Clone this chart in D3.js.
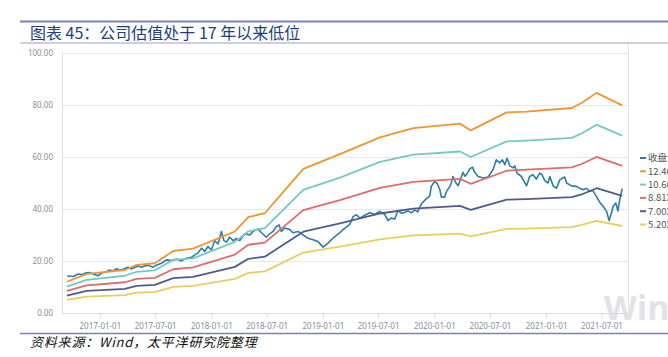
<!DOCTYPE html>
<html>
<head>
<meta charset="utf-8">
<script src="https://cdn.jsdelivr.net/npm/d3@7/dist/d3.min.js"></script>
<style>
html,body{margin:0;padding:0;background:#fff;overflow:hidden;}
svg{display:block;}
</style>
</head>
<body>
<svg id="chart" width="668" height="357"></svg>
<script>
// ---------------- DATA ----------------
const titleText = "图表 45：公司估值处于 17 年以来低位";
const sourceText = "资料来源：Wind，太平洋研究院整理";
const legendLabels = ["收盘价", "12.40X", "10.60X", "8.81X", "7.00X", "5.20X"];
const yTicks = [0, 20, 40, 60, 80, 100];
const xTickLabels = ["2017-01-01","2017-07-01","2018-01-01","2018-07-01","2019-01-01","2019-07-01","2020-01-01","2020-07-01","2021-01-01","2021-07-01"];

const closeDates = [
"2016-09-16","2016-10-06","2016-10-22","2016-11-03","2016-11-16","2016-11-29","2016-12-10","2016-12-26",
"2017-01-06","2017-01-23","2017-02-03","2017-02-12","2017-02-24","2017-03-07","2017-03-18","2017-04-03",
"2017-04-14","2017-04-25","2017-05-06","2017-05-17","2017-05-28","2017-06-08","2017-06-24","2017-07-06",
"2017-07-22","2017-08-07","2017-08-23","2017-09-09","2017-09-25","2017-10-11","2017-10-28","2017-11-08",
"2017-11-18","2017-11-30","2017-12-10","2017-12-21","2018-01-01","2018-01-12","2018-01-23","2018-02-03",
"2018-02-11","2018-02-19","2018-03-02","2018-03-13","2018-03-24","2018-04-04","2018-04-20","2018-05-07",
"2018-05-17","2018-06-03","2018-06-14","2018-06-30","2018-07-11","2018-07-22","2018-08-02","2018-08-11",
"2018-08-18","2018-08-29","2018-09-15","2018-09-25","2018-10-12","2018-10-28","2018-11-13","2018-11-30",
"2018-12-16","2019-01-02","2019-01-18","2019-02-03","2019-02-25","2019-03-08","2019-03-30","2019-04-10",
"2019-04-21","2019-05-02","2019-05-18","2019-06-04","2019-06-20","2019-07-06","2019-07-23","2019-08-02",
"2019-08-14","2019-08-24","2019-09-04","2019-09-15","2019-09-26","2019-10-07","2019-10-18","2019-10-29",
"2019-11-08","2019-11-14","2019-11-20","2019-12-01","2019-12-11","2019-12-17","2019-12-22","2020-01-02",
"2020-01-10","2020-01-19","2020-01-24","2020-02-04","2020-02-10","2020-02-21","2020-02-26","2020-03-02",
"2020-03-11","2020-03-19","2020-03-24","2020-04-04","2020-04-10","2020-04-15","2020-04-26","2020-05-05",
"2020-05-12","2020-05-23","2020-06-09","2020-06-25","2020-07-11","2020-07-22","2020-08-02","2020-08-11",
"2020-08-19","2020-08-26","2020-09-04","2020-09-15","2020-09-20","2020-09-28","2020-10-12","2020-10-29",
"2020-11-08","2020-11-19","2020-11-30","2020-12-11","2020-12-19","2020-12-27","2021-01-07","2021-01-13",
"2021-01-24","2021-02-04","2021-02-15","2021-03-03","2021-03-09","2021-03-25","2021-04-10","2021-04-21",
"2021-05-02","2021-05-13","2021-05-24","2021-06-03","2021-06-15","2021-06-26","2021-07-07","2021-07-18",
"2021-07-26","2021-08-03","2021-08-08","2021-08-17","2021-08-24","2021-08-30","2021-09-07"
];
const closeValues = [
14.2,14.0,15.0,14.8,15.4,15.5,15.0,14.3,
15.3,15.9,16.5,16.0,17.0,16.5,16.8,17.6,
16.9,17.5,18.0,17.6,18.1,18.3,17.6,18.4,
19.1,20.4,20.1,20.7,20.0,21.0,21.4,22.3,
23.0,24.9,23.6,25.5,24.2,27.8,26.5,31.3,
27.8,27.2,29.1,27.8,28.6,27.8,30.4,30.0,
31.3,32.3,30.8,29.1,30.4,31.3,33.2,33.8,
31.3,32.6,32.0,30.8,31.3,30.0,28.7,28.1,
27.4,25.3,26.8,28.7,30.8,32.0,34.0,37.0,
37.7,36.4,37.5,38.5,37.8,39.0,37.8,35.5,
36.5,36.0,39.3,38.3,38.6,39.2,38.5,39.5,
38.8,40.5,42.0,43.3,44.3,45.0,48.6,50.5,
49.8,47.3,44.5,44.5,46.7,48.6,50.1,52.4,
50.1,48.8,50.5,54.0,52.5,53.1,55.3,56.0,
54.0,52.4,51.8,52.2,55.0,58.8,57.6,58.8,
56.9,59.4,56.5,55.7,56.5,53.7,52.4,48.8,
52.4,53.1,51.4,53.7,53.0,50.9,49.9,52.4,
48.8,47.9,51.2,52.2,49.9,48.8,48.6,47.9,
47.3,47.9,46.7,47.0,44.7,42.4,40.9,39.0,
35.5,38.5,40.9,42.2,39.2,43.5,47.7
];

const bandDates = [
"2016-09-15","2016-11-19","2017-03-24","2017-05-01","2017-06-30","2017-08-29","2017-11-02",
"2018-03-19","2018-05-02","2018-06-25","2018-10-29","2019-02-26","2019-07-07","2019-10-24",
"2020-03-25","2020-04-29","2020-08-25","2020-10-29","2021-03-26","2021-04-27","2021-06-15","2021-09-07"
];
const band1240 = [12.0,15.0,16.5,18.5,19.1,23.8,24.7,31.3,36.8,38.3,55.3,61.0,67.4,71.0,72.7,70.1,77.0,77.3,78.7,80.6,84.5,79.7];
const band1060 = [10.1,12.7,14.3,15.8,16.4,20.4,21.0,27.3,31.3,32.6,47.3,52.0,58.0,60.8,62.0,59.9,65.9,66.2,67.2,68.9,72.3,68.1];
const band881  = [8.5,10.6,11.8,13.1,13.5,16.8,17.5,22.4,26.2,27.0,39.5,43.3,48.0,50.3,51.5,49.6,54.6,55.0,55.9,57.2,59.9,56.5];
const band700  = [6.7,8.5,9.3,10.4,10.8,13.4,13.9,17.7,20.8,21.6,31.2,34.4,38.2,40.1,41.1,39.6,43.5,43.7,44.5,45.5,47.9,45.0];
const band520  = [5.0,6.3,6.9,7.8,8.0,10.0,10.4,13.1,15.4,16.0,23.2,25.5,28.3,29.8,30.5,29.4,32.3,32.4,33.0,33.8,35.4,33.4];

// ---------------- CHART ----------------
const colors = ["#2f7ca8", "#f0952f", "#74c9c5", "#e06a6c", "#4f5a8f", "#e8cd62"];
const parse = d3.timeParse("%Y-%m-%d");
const svg = d3.select("#chart");

const plot = {left: 62, right: 628, top: 52.5, bottom: 313};
const x = d3.scaleTime()
  .domain([parse("2016-08-30"), parse("2021-09-26")])
  .range([plot.left, plot.right]);
const y = d3.scaleLinear().domain([0, 100]).range([plot.bottom, plot.top]);

// header rules and title
svg.append("line").attr("x1", 20).attr("x2", 668).attr("y1", 21.5).attr("y2", 21.5)
  .attr("stroke", "#7d80b6").attr("stroke-width", 2);
svg.append("line").attr("x1", 20).attr("x2", 668).attr("y1", 43).attr("y2", 43)
  .attr("stroke", "#9c9ec9").attr("stroke-width", 1);
svg.append("text").attr("x", 30).attr("y", 39)
  .attr("font-family", "'Noto Sans CJK SC', sans-serif").attr("font-size", 16)
  .attr("fill", "#213d7d").text(titleText);

// watermark
svg.append("text").attr("x", 604).attr("y", 320)
  .attr("font-family", "'Open Sans', 'Noto Sans', sans-serif").attr("font-weight", 700)
  .attr("font-size", 34).attr("fill", "#e3e3e7").text("Wind");

// gridlines
svg.append("g").selectAll("line").data(yTicks.filter(t => t > 0)).join("line")
  .attr("x1", plot.left).attr("x2", plot.right)
  .attr("y1", d => Math.round(y(d)) + 0.5).attr("y2", d => Math.round(y(d)) + 0.5)
  .attr("stroke", "#e7e7ee").attr("stroke-width", 1);

// frame lines
svg.append("line").attr("x1", plot.left + 0.5).attr("x2", plot.left + 0.5)
  .attr("y1", plot.top).attr("y2", plot.bottom).attr("stroke", "#dcdce4");
svg.append("line").attr("x1", plot.right + 0.5).attr("x2", plot.right + 0.5)
  .attr("y1", 45).attr("y2", 316).attr("stroke", "#e4e4ea");

// y axis
const yAxis = d3.axisLeft(y).tickValues(yTicks).tickFormat(d3.format(".2f")).tickSize(0).tickPadding(9);
const gy = svg.append("g").attr("transform", `translate(${plot.left},0)`).call(yAxis);
gy.select(".domain").remove();
gy.selectAll("text").attr("font-family", "'Noto Sans', sans-serif").attr("font-size", 8)
  .attr("fill", "#8c8c94");

// x axis
const xTickDates = xTickLabels.map(parse);
const xAxis = d3.axisBottom(x).tickValues(xTickDates).tickFormat(d3.timeFormat("%Y-%m-%d"))
  .tickSize(5).tickPadding(5);
const gx = svg.append("g").attr("transform", `translate(0,${plot.bottom + 0.5})`).call(xAxis);
gx.select(".domain").attr("stroke", "#d8d8e0").attr("d", `M${plot.left},0H${plot.right}`);
gx.selectAll(".tick line").attr("stroke", "#dcdce4");
gx.selectAll("text").attr("font-family", "'Noto Sans', sans-serif").attr("font-size", 8)
  .attr("fill", "#8c8c94");

// lines
const line = d3.line().x(d => x(d[0])).y(d => y(d[1]));
const closeData = closeDates.map((d, i) => [parse(d), closeValues[i]]);
const bands = [band1240, band1060, band881, band700, band520];
const bandDatesParsed = bandDates.map(parse);

svg.append("path").datum(closeData).attr("d", line)
  .attr("fill", "none").attr("stroke", colors[0]).attr("stroke-width", 1.6)
  .attr("stroke-linejoin", "round");

bands.forEach((vals, k) => {
  svg.append("path").datum(bandDatesParsed.map((d, i) => [d, vals[i]])).attr("d", line)
    .attr("fill", "none").attr("stroke", colors[k + 1]).attr("stroke-width", 1.8)
    .attr("stroke-linejoin", "round");
});

// legend
const legend = svg.append("g").attr("transform", "translate(640,158)");
legendLabels.forEach((lab, i) => {
  const g = legend.append("g").attr("transform", `translate(0,${i * 13.3})`);
  g.append("line").attr("x1", 0).attr("x2", 6).attr("y1", 0).attr("y2", 0)
    .attr("stroke", colors[i]).attr("stroke-width", 2);
  g.append("text").attr("x", 8).attr("y", 3.4)
    .attr("font-family", "'Noto Sans CJK SC', 'Noto Sans', sans-serif").attr("font-size", 9.5)
    .attr("fill", "#555").text(lab);
});

// footer
svg.append("line").attr("x1", 20).attr("x2", 668).attr("y1", 333.5).attr("y2", 333.5)
  .attr("stroke", "#7d80b6").attr("stroke-width", 1.5);
svg.append("text").attr("x", 30).attr("y", 347)
  .attr("font-family", "'Noto Sans CJK SC', sans-serif").attr("font-size", 13)
  .attr("letter-spacing", 0.8)
  .attr("font-style", "italic").attr("fill", "#111").text(sourceText);
</script>
</body>
</html>
